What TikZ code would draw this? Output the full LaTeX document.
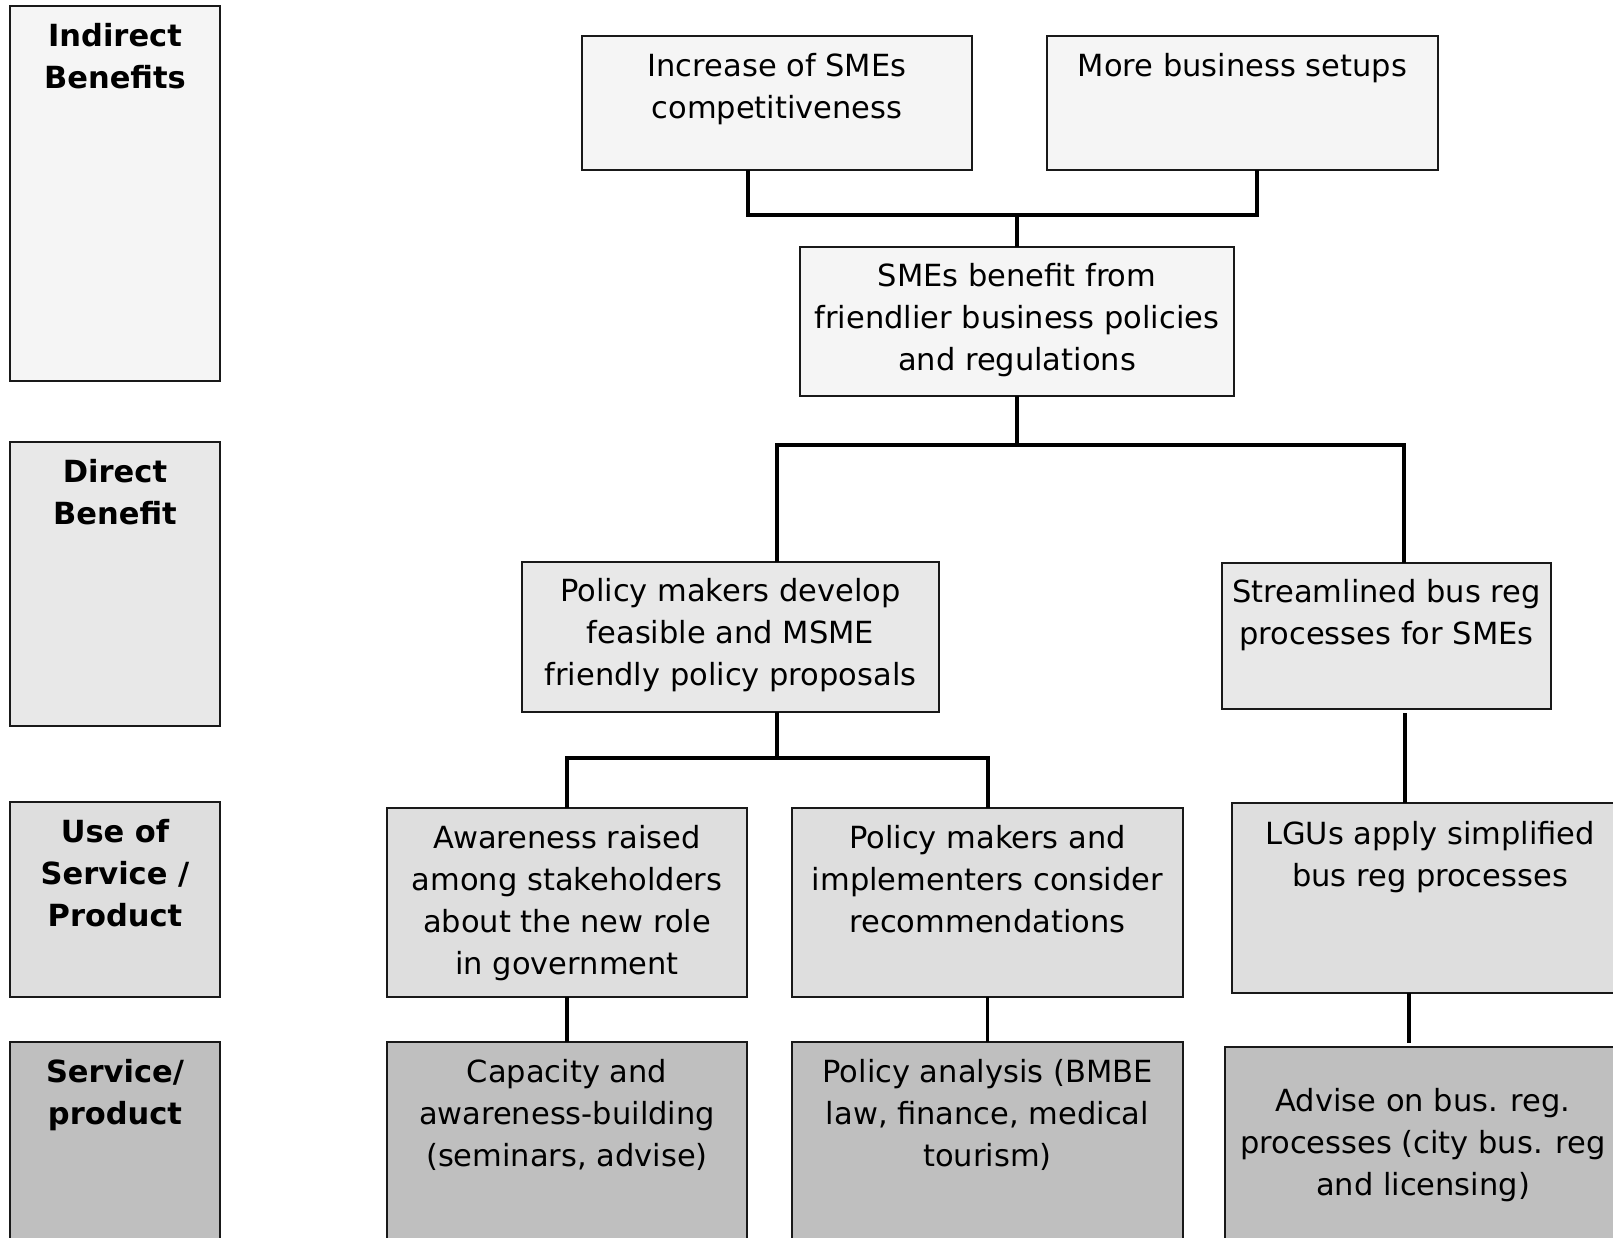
\documentclass[tikz,border=0pt]{standalone}
\usepackage{fontspec}
\setmainfont{DejaVu Sans}
\begin{document}
\begin{tikzpicture}[x=1pt,y=-1pt,
  box/.style={draw=black!90, line width=1.7pt, inner sep=0pt, outer sep=0pt, anchor=north west},
  lvl1/.style={box, fill=black!4},
  lvl2/.style={box, fill=black!9},
  lvl3/.style={box, fill=black!13},
  lvl4/.style={box, fill=black!25},
  txt/.style={inner sep=0pt, align=center, anchor=north, font=\fontsize{30.5}{42}\selectfont},
  lbl/.style={txt, font=\fontsize{30.5}{42}\selectfont\bfseries},
  link/.style={line width=3.4pt, draw=black}]
\useasboundingbox (0,0) rectangle (1613,1237);
\clip (0,0) rectangle (1613,1237);

% level labels on the left
\node[lvl1, minimum width=210, minimum height=375] (L1) at (10,6) {};
\node[lvl2, minimum width=210, minimum height=284] (L2) at (10,442) {};
\node[lvl3, minimum width=210, minimum height=195] (L3) at (10,802) {};
\node[lvl4, minimum width=210, minimum height=260] (L4) at (10,1042) {};
\node[lbl] (tL1) at ([yshift=-17]L1.north) {Indirect\\Benefits};
\node[lbl] (tL2) at ([yshift=-17]L2.north) {Direct\\Benefit};
\node[lbl] (tL3) at ([yshift=-17]L3.north) {Use of\\Service /\\Product};
\node[lbl] (tL4) at ([yshift=-17]L4.north) {Service/\\product};

% indirect benefits
\node[lvl1, minimum width=390, minimum height=134] (A) at (582,36) {};
\node[lvl1, minimum width=391, minimum height=134] (B) at (1047,36) {};
\node[txt] (tA) at ([yshift=-17]A.north) {Increase of SMEs\\competitiveness};
\node[txt] (tB) at ([yshift=-17]B.north) {More business setups};
\node[lvl1, minimum width=434, minimum height=149] (C) at (800,247) {};
\node[txt] (tC) at ([yshift=-16]C.north) {SMEs benefit from\\friendlier business policies\\and regulations};

% direct benefits
\node[lvl2, minimum width=417, minimum height=150] (D) at (522,562) {};
\node[txt] (tD) at ([yshift=-16]D.north) {Policy makers develop\\feasible and MSME\\friendly policy proposals};
\node[lvl2, minimum width=329, minimum height=146] (E) at (1222,563) {};
\node[txt] (tE) at ([yshift=-16]E.north) {Streamlined bus reg\\processes for SMEs};

% use of service / product
\node[lvl3, minimum width=360, minimum height=189] (F) at (387,808) {};
\node[txt] (tF) at ([yshift=-17]F.north) {Awareness raised\\among stakeholders\\about the new role\\in government};
\node[lvl3, minimum width=391, minimum height=189] (G) at (792,808) {};
\node[txt] (tG) at ([yshift=-17]G.north) {Policy makers and\\implementers consider\\recommendations};
\node[lvl3, minimum width=396, minimum height=190] (H) at (1232,803) {};
\node[txt] (tH) at ([yshift=-18]H.north) {LGUs apply simplified\\bus reg processes};

% services / products
\node[lvl4, minimum width=360, minimum height=260] (I) at (387,1042) {};
\node[txt] (tI) at ([yshift=-17]I.north) {Capacity and\\awareness-building\\(seminars, advise)};
\node[lvl4, minimum width=391, minimum height=260] (J) at (792,1042) {};
\node[txt] (tJ) at ([yshift=-17]J.north) {Policy analysis (BMBE\\law, finance, medical\\tourism)};
\node[lvl4, minimum width=396, minimum height=260] (K) at (1225,1047) {};
\node[txt] (tK) at ([yshift=-41]K.north) {Advise on bus. reg.\\processes (city bus. reg\\and licensing)};

% connectors
\coordinate (jA) at (748,215);
\coordinate (jB) at (1257,215);
\coordinate (jC) at (1017,215);
\draw[link] (jA |- A.south) -- (jA) -- (jB) -- (jB |- B.south);
\draw[link] (jC) -- (jC |- C.north);

\coordinate (jD) at (777,445);
\coordinate (jE) at (1404,445);
\draw[link] (C.south) -- (C.south |- jD);
\draw[link] (jD |- D.north) -- (jD) -- (jE) -- (jE |- E.north);

\coordinate (jF) at (567,758);
\coordinate (jG) at (988,758);
\draw[link] (jD |- D.south) -- (jD |- jF);
\draw[link] (jF |- F.north) -- (jF) -- (jG) -- (jG |- G.north);

\coordinate (eH) at (1405,713);
\draw[link] (eH) -- (eH |- H.north);

\draw[link] (F.south) -- (I.north);
\draw[link] (G.south) -- (J.north);
\coordinate (eK) at (1409,1043);
\draw[link] (eK |- H.south) -- (eK);
\end{tikzpicture}
\end{document}
